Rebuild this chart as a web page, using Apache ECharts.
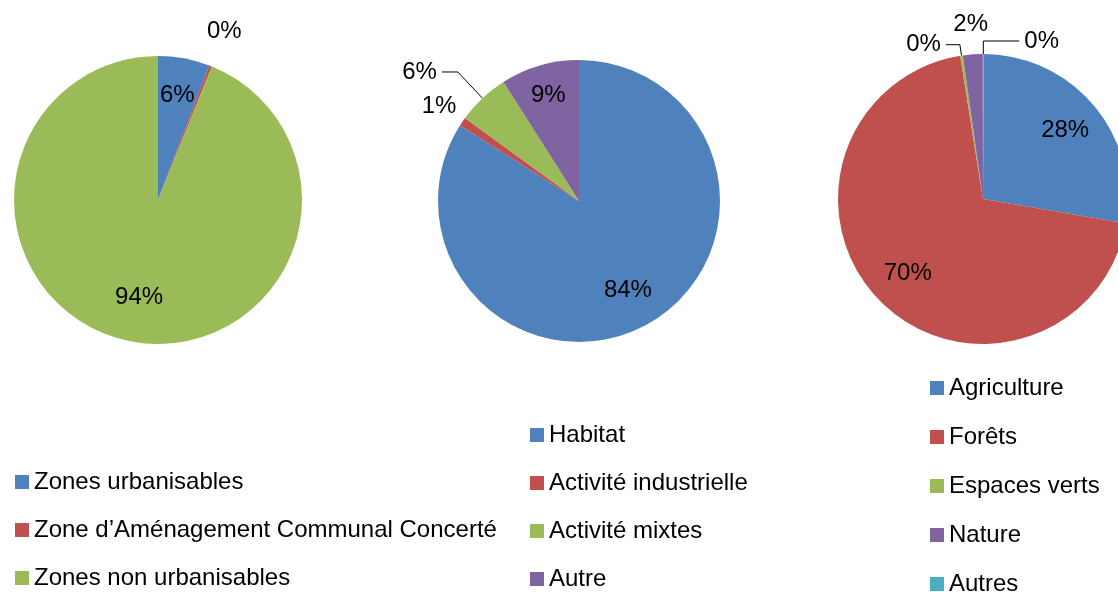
<!DOCTYPE html>
<html lang="fr">
<head>
<meta charset="UTF-8">
<title>Répartition des surfaces</title>
<script src="https://cdn.jsdelivr.net/npm/echarts@6/dist/echarts.min.js"></script>
<style>
html, body { margin: 0; padding: 0; background: #fff; }
#main { width: 1118px; height: 592px; }
</style>
</head>
<body>
<div id="main"></div>
<script>
// données (%)
var zonesNames = ['Zones urbanisables', 'Zone d’Aménagement Communal Concerté', 'Zones non urbanisables'];
var zonesValues = [5.8, 0.3, 93.9];

var urbNames = ['Habitat', 'Activité industrielle', 'Activité mixtes', 'Autre'];
var urbValues = [84, 1, 6, 9];

var natNames = ['Agriculture', 'Forêts', 'Espaces verts', 'Nature', 'Autres'];
var natValues = [27.6, 69.8, 0.3, 2.2, 0.1];

var colors = ['#4F81BD', '#C0504D', '#9BBB59', '#8064A2', '#4BACC6'];
var font = '"Liberation Sans", Arial, sans-serif';

// mise en page : distance du libellé au centre (part du rayon), null = libellé avec trait
var pies = [
	{ center: [158, 200], r: 144, start: 90, names: zonesNames, values: zonesValues,
	  ratio: [0.74, 1.26, 0.69], lines: {} },
	{ center: [579, 201], r: 141, start: 90, names: urbNames, values: urbValues,
	  ratio: [0.72, 1.2, null, 0.78], lines: { 2: [36, 16] } },
	{ center: [983, 199], r: 145, start: 89.7, names: natNames, values: natValues,
	  ratio: [0.74, 0.73, null, 1.21, null], lines: { 2: [11, 14], 4: [13, 36] } }
];

var myChart = echarts.init(document.getElementById('main'));

var series = pies.map(function (p) {
	return {
		type: 'pie',
		center: p.center,
		radius: [0, p.r],
		startAngle: p.start,
		clockwise: true,
		avoidLabelOverlap: false,
		silent: true,
		label: {
			show: true,
			position: 'inside',
			color: '#000',
			fontSize: 24,
			fontFamily: font,
			formatter: function (d) { return Math.round(d.percent) + '%'; }
		},
		labelLine: { show: false },
		labelLayout: function (params) {
			var k = p.ratio[params.dataIndex];
			if (!k) return {};
			var rc = params.labelRect;
			var vx = rc.x + rc.width / 2 - p.center[0];
			var vy = rc.y + rc.height / 2 - p.center[1];
			var len = Math.sqrt(vx * vx + vy * vy) || 1;
			var move = k * p.r - len;
			return { dx: vx / len * move, dy: vy / len * move };
		},
		data: p.names.map(function (n, i) {
			var item = { name: n, value: p.values[i], itemStyle: { color: colors[i] } };
			var ln = p.lines[i];
			if (ln) {
				item.label = { position: 'outside' };
				item.labelLine = { show: true, length: ln[0], length2: ln[1],
					lineStyle: { color: '#000', width: 1 } };
			}
			return item;
		})
	};
});

function legendAt(names, left, top, gap) {
	return {
		orient: 'vertical',
		left: left,
		top: top,
		height: 260,
		data: names,
		icon: 'rect',
		itemWidth: 14,
		itemHeight: 14,
		itemGap: gap,
		selectedMode: false,
		padding: 0,
		textStyle: { color: '#000', fontSize: 24, fontFamily: font, lineHeight: 24 }
	};
}

var option = {
	animation: false,
	backgroundColor: '#fff',
	legend: [
		legendAt(zonesNames, 15, 470, 24),
		legendAt(urbNames, 530, 423, 24),
		legendAt(natNames, 930, 376, 25)
	],
	series: series
};
myChart.setOption(option);
</script>
</body>
</html>
